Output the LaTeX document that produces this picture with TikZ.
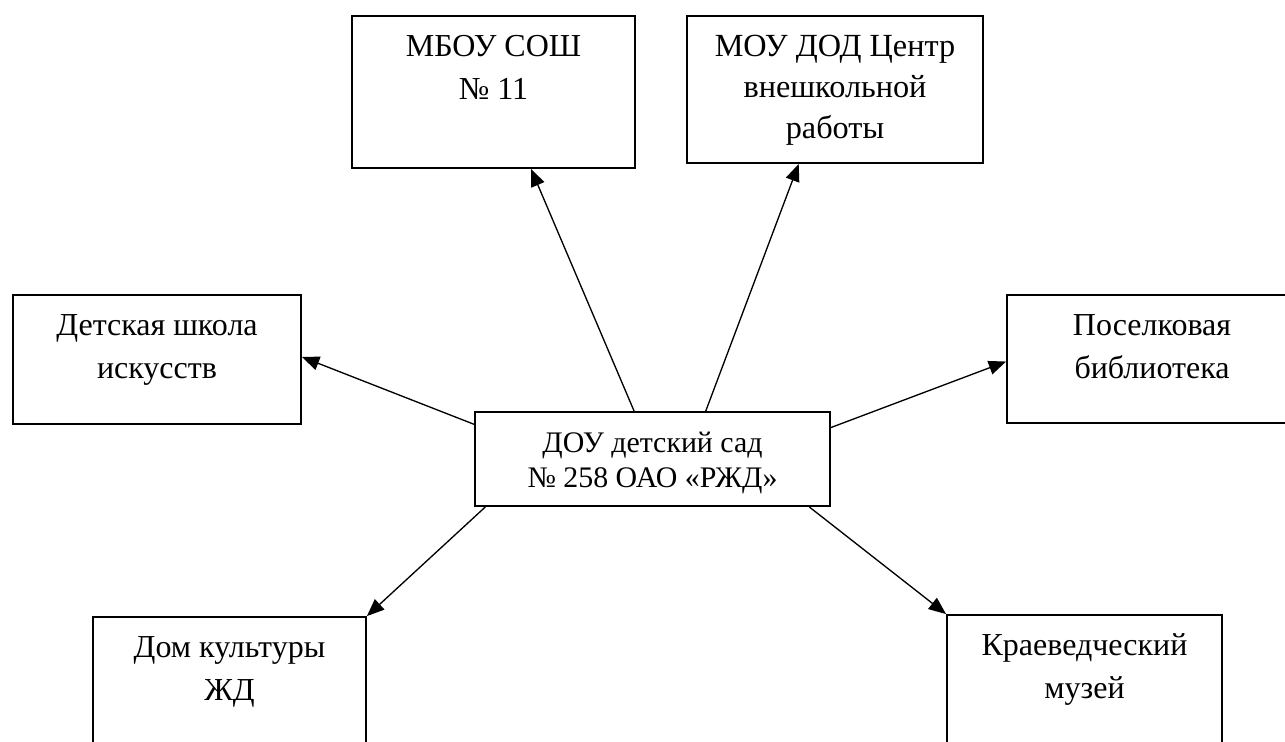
\documentclass[tikz,border=0pt]{standalone}
\usepackage{fontspec}
\setmainfont{Liberation Serif}
\usetikzlibrary{positioning, arrows.meta}

\tikzset{
  unit/.style={draw, line width=1.4pt, inner sep=0pt},
  lbl/.style={align=center, inner sep=0pt, anchor=base, font=\fontsize{24}{32.25}\selectfont},
  three/.style={font=\fontsize{24.2}{30.75}\selectfont},
  tight/.style={font=\fontsize{22.4}{26.25}\selectfont},
  link/.style={line width=1pt, -{Triangle[length=13pt,width=10.5pt]}}
}

\begin{document}
\begin{tikzpicture}[x=0.75pt, y=-0.75pt]
  \useasboundingbox (0,0) rectangle (1285,742);
  \clip (0,0) rectangle (1285,742);

  % boxes
  \node[unit, minimum width=266.25pt, minimum height=70.5pt] (dou) at (652.5,459) {};
  \node[unit, minimum width=212.25pt, minimum height=114pt] (sosh) at (493.5,92) {};
  \node[unit, minimum width=222pt, minimum height=110.25pt] (cvr) at (835,89.5) {};
  \node[unit, minimum width=216pt, minimum height=96.75pt] (dshi) at (157,359.5) {};
  \node[unit, minimum width=217.5pt, minimum height=96pt] (lib) at (1152,359) {};
  \node[unit, minimum width=204.75pt, minimum height=112.5pt] (dk) at (229.5,692) {};
  \node[unit, minimum width=206.25pt, minimum height=112.5pt] (muz) at (1084.5,690) {};

  % texts (base = last line)
  \node[lbl, tight] (doutxt) at ([yshift=-57pt]dou.north) {ДОУ детский сад\\№ 258 ОАО «РЖД»};
  \node[lbl] (soshtxt) at ([yshift=-63pt]sosh.north) {МБОУ СОШ\\№ 11};
  \node[lbl, three] (cvrtxt) at ([yshift=-92.25pt]cvr.north) {МОУ ДОД Центр\\внешкольной\\работы};
  \node[lbl] (dshitxt) at ([yshift=-63pt]dshi.north) {Детская школа\\искусств};
  \node[lbl] (libtxt) at ([yshift=-63pt]lib.north) {Поселковая\\библиотека};
  \node[lbl] (dktxt) at ([yshift=-63pt]dk.north) {Дом культуры\\ЖД};
  \node[lbl] (muztxt) at ([yshift=-63pt]muz.north) {Краеведческий\\музей};

  % links
  \draw[link] (dou.111) -- (sosh.296);
  \draw[link] (dou.42) -- (cvr.244);
  \draw[link] (dou.169) -- (dshi.1.4);
  \draw[link] (dou.10.8) -- (lib.181.6);
  \draw[link] (dou.196.4) -- (dk.north east);
  \draw[link] (dou.343.6) -- (muz.north west);
\end{tikzpicture}
\end{document}
